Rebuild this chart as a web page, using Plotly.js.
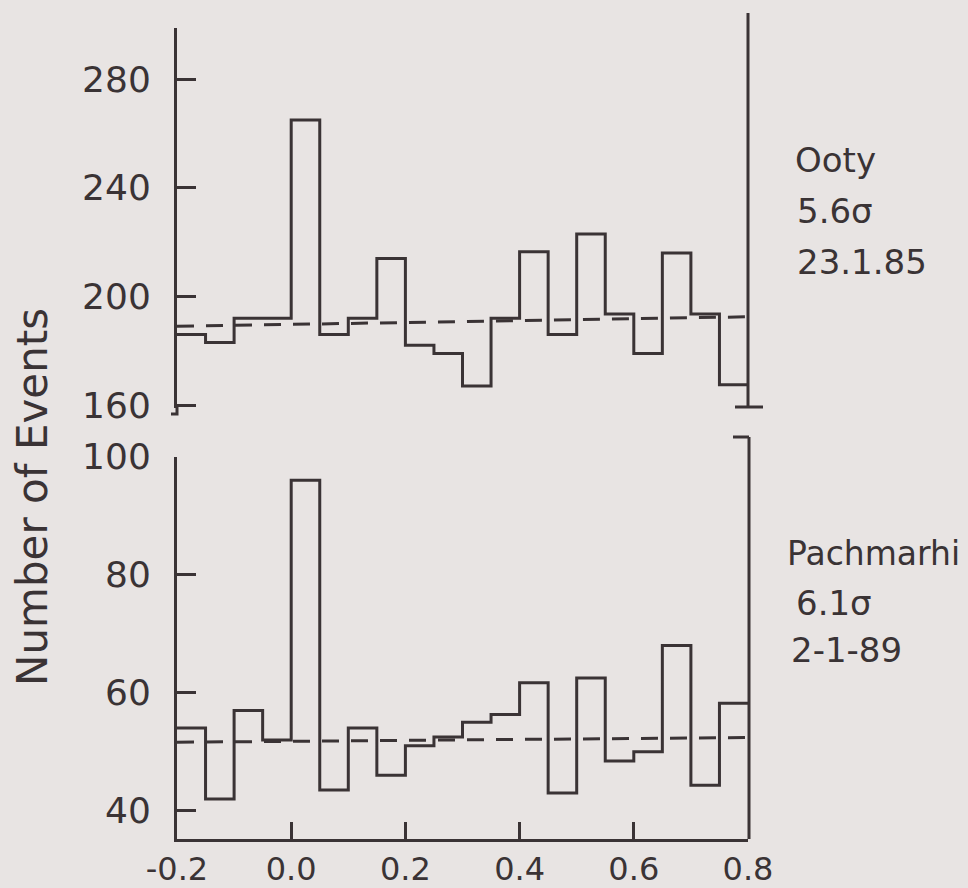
<!DOCTYPE html>
<html>
<head>
<meta charset="utf-8">
<script src="https://cdn.plot.ly/plotly-3.0.1.min.js"></script>
<style>html,body{margin:0;padding:0;background:#e8e4e3;}</style>
</head>
<body>
<div id="chart" style="width:968px;height:888px;"></div>
<script>
// Bin left edges (phase), width 0.05
const binLeft = [-0.2, -0.15, -0.1, -0.05, 0.0, 0.05, 0.1, 0.15, 0.2, 0.25,
                 0.3, 0.35, 0.4, 0.45, 0.5, 0.55, 0.6, 0.65, 0.7, 0.75];
const binEndEdge = 0.8;
// Ooty 23.1.85 (5.6 sigma)
const ootyCounts = [186, 183, 192, 192, 265, 186, 192, 214, 182, 179,
                    167, 192, 216.5, 186, 223, 193.5, 179, 216, 193.5, 167.5];
// Pachmarhi 2-1-89 (6.1 sigma)
const pachCounts = [54, 42, 57, 52, 96, 43.5, 54, 46, 51, 52.5,
                    55, 56.3, 61.7, 43, 62.5, 48.4, 50, 68, 44.3, 58.2];
// background levels (dashed)
const bgX = [-0.2, 0.8];
const ootyBg = [189, 192.5];
const pachBg = [51.6, 52.4];
// tick labels
const xTickVals = [-0.2, 0.0, 0.2, 0.4, 0.6, 0.8];
const xTickText = ['-0.2', '0.0', '0.2', '0.4', '0.6', '0.8'];
const ootyTicks = [160, 200, 240, 280];
const pachTicks = [40, 60, 80, 100];

const ink = '#3a3335';
const bg = '#e8e4e3';
const font = 'DejaVu Sans';
const LW = 3;

function steps(vals) {
  return { x: binLeft.concat([binEndEdge]), y: vals.concat([vals[vals.length - 1]]) };
}
const sO = steps(ootyCounts), sP = steps(pachCounts);

const traces = [
  { x: sO.x, y: sO.y, xaxis: 'x', yaxis: 'y2', mode: 'lines', line: { shape: 'hv', color: ink, width: LW }, hoverinfo: 'skip' },
  { x: bgX, y: ootyBg, xaxis: 'x', yaxis: 'y2', mode: 'lines', line: { color: ink, width: LW, dash: '17px,12px' }, hoverinfo: 'skip' },
  { x: sP.x, y: sP.y, xaxis: 'x', yaxis: 'y', mode: 'lines', line: { shape: 'hv', color: ink, width: LW }, hoverinfo: 'skip' },
  { x: bgX, y: pachBg, xaxis: 'x', yaxis: 'y', mode: 'lines', line: { color: ink, width: LW, dash: '17px,12px' }, hoverinfo: 'skip' }
];

const W = 968, H = 888;
const px = v => v / W;
const py = v => 1 - v / H;

const yCommon = {
  showgrid: false, zeroline: false, showline: true, linecolor: ink, linewidth: LW,
  ticks: 'inside', ticklen: 19, tickwidth: LW, tickcolor: ink,
  tickfont: { family: font, size: 36, color: ink }, ticklabelstandoff: 16, anchor: 'x'
};

const layout = {
  width: W, height: H, autosize: false,
  margin: { l: 0, r: 0, t: 0, b: 0 },
  paper_bgcolor: bg, plot_bgcolor: bg,
  showlegend: false,
  xaxis: {
    domain: [px(177), px(748)], range: [-0.2, 0.8], anchor: 'y',
    showgrid: false, zeroline: false, showline: true, linecolor: ink, linewidth: LW,
    ticks: 'inside', ticklen: 17, tickwidth: LW, tickcolor: ink,
    tickvals: xTickVals, ticktext: xTickText,
    tickfont: { family: font, size: 32, color: ink }, ticklabelstandoff: 0
  },
  yaxis: Object.assign({}, yCommon, {
    domain: [py(839), py(456.7)], range: [35.2, 100], tickvals: pachTicks
  }),
  yaxis2: Object.assign({}, yCommon, {
    domain: [py(408), py(28)], range: [158.9, 298.9], tickvals: ootyTicks
  }),
  shapes: [
    { type: 'line', xref: 'paper', yref: 'paper', x0: px(748), x1: px(748), y0: py(407), y1: py(13), line: { color: ink, width: LW } },
    { type: 'line', xref: 'paper', yref: 'paper', x0: px(735), x1: px(763), y0: py(407), y1: py(407), line: { color: ink, width: LW } },
    { type: 'path', xref: 'paper', yref: 'paper', path: `M ${px(177)} ${py(407)} L ${px(177)} ${py(414)} L ${px(171)} ${py(414)}`, line: { color: ink, width: LW } },
    { type: 'line', xref: 'paper', yref: 'paper', x0: px(749), x1: px(749), y0: py(839), y1: py(437), line: { color: ink, width: LW } },
    { type: 'line', xref: 'paper', yref: 'paper', x0: px(733), x1: px(749), y0: py(437), y1: py(437), line: { color: ink, width: LW } }
  ],
  annotations: [
    { text: 'Number of Events', xref: 'paper', yref: 'paper', x: px(32), y: py(497), textangle: -90, showarrow: false, xanchor: 'center', yanchor: 'middle', font: { family: font, size: 42, color: ink } },
    { text: 'Ooty', xref: 'paper', yref: 'paper', x: px(793), y: py(160), showarrow: false, xanchor: 'left', yanchor: 'middle', font: { family: font, size: 34, color: ink } },
    { text: '5.6σ', xref: 'paper', yref: 'paper', x: px(795), y: py(211), showarrow: false, xanchor: 'left', yanchor: 'middle', font: { family: font, size: 34, color: ink } },
    { text: '23.1.85', xref: 'paper', yref: 'paper', x: px(795), y: py(262), showarrow: false, xanchor: 'left', yanchor: 'middle', font: { family: font, size: 34, color: ink } },
    { text: 'Pachmarhi', xref: 'paper', yref: 'paper', x: px(785), y: py(553), showarrow: false, xanchor: 'left', yanchor: 'middle', font: { family: font, size: 33, color: ink } },
    { text: '6.1σ', xref: 'paper', yref: 'paper', x: px(794), y: py(603), showarrow: false, xanchor: 'left', yanchor: 'middle', font: { family: font, size: 34, color: ink } },
    { text: '2-1-89', xref: 'paper', yref: 'paper', x: px(789), y: py(650), showarrow: false, xanchor: 'left', yanchor: 'middle', font: { family: font, size: 34, color: ink } }
  ]
};

Plotly.newPlot('chart', traces, layout, { displayModeBar: false, staticPlot: true });
</script>
</body>
</html>
